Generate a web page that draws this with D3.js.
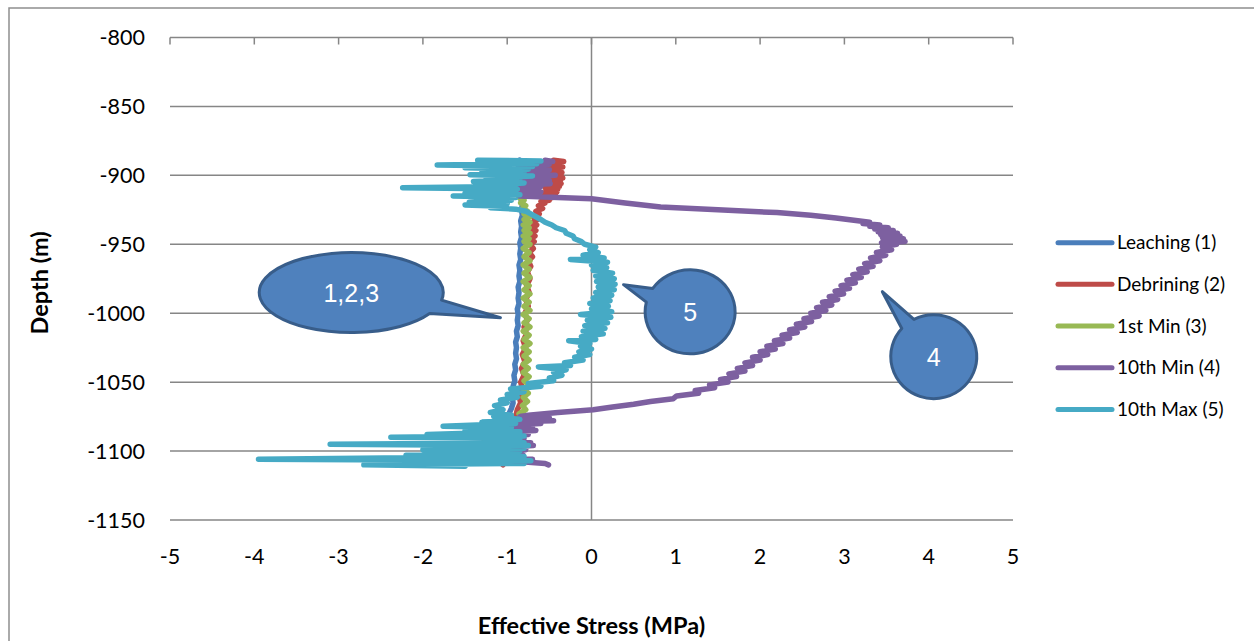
<!DOCTYPE html>
<html>
<head>
<meta charset="utf-8">
<script src="https://cdn.jsdelivr.net/npm/d3@7"></script>
<style>
  body { margin: 0; background: #fff; }
  svg { display: block; }
  text { font-family: Lato, "Open Sans", sans-serif; fill: #000; }
</style>
</head>
<body>
<div id="chart"></div>
<script>
// series: [depth (m), effective stress (MPa)]
var leaching = [
  [-889,-0.85],[-893,-0.87],[-897,-0.84],[-901,-0.86],[-905,-0.85],[-909,-0.86],[-913,-0.83],[-917,-0.84],
  [-921,-0.82],[-925,-0.83],[-929,-0.82],[-933,-0.84],[-937,-0.83],[-941,-0.84],[-945,-0.83],[-949,-0.85],
  [-953,-0.84],[-957,-0.85],[-961,-0.84],[-965,-0.86],[-969,-0.85],[-973,-0.86],[-977,-0.85],[-981,-0.87],
  [-985,-0.86],[-989,-0.87],[-993,-0.86],[-997,-0.88],[-1001,-0.87],[-1005,-0.88],[-1009,-0.87],[-1013,-0.89],
  [-1017,-0.88],[-1021,-0.9],[-1025,-0.89],[-1029,-0.9],[-1033,-0.89],[-1037,-0.91],[-1041,-0.9],[-1045,-0.92],
  [-1049,-0.91],[-1053,-0.93],[-1057,-0.92],[-1061,-0.94],[-1065,-0.93],[-1069,-0.95],[-1073,-0.98],[-1077,-1.0],
  [-1081,-0.98],[-1085,-1.03],[-1089,-1.0],[-1093,-1.06],[-1097,-1.01],[-1101,-1.08],[-1105,-1.02],[-1109,-1.06]
];
var debrining = [
  [-889,-0.45],[-890,-0.33],[-891,-0.52],[-892,-0.36],[-893,-0.55],[-894,-0.34],[-895,-0.5],[-896,-0.38],
  [-897,-0.56],[-898,-0.35],[-899,-0.52],[-900,-0.36],[-901,-0.55],[-902,-0.34],[-903,-0.53],[-904,-0.37],
  [-905,-0.56],[-906,-0.36],[-907,-0.52],[-908,-0.38],[-909,-0.55],[-910,-0.4],[-911,-0.54],[-912,-0.41],
  [-913,-0.57],[-914,-0.43],[-915,-0.56],[-916,-0.46],[-917,-0.58],[-918,-0.5],[-919,-0.6],[-920,-0.55],
  [-922,-0.63],[-924,-0.58],[-926,-0.66],[-928,-0.62],[-930,-0.69],[-932,-0.64],[-934,-0.7],[-936,-0.65],
  [-938,-0.71],[-940,-0.66],[-942,-0.72],[-944,-0.67],[-946,-0.72],[-948,-0.68],[-950,-0.73],[-953,-0.69],
  [-956,-0.74],[-959,-0.7],[-962,-0.75],[-966,-0.72],[-970,-0.76],[-975,-0.73],[-980,-0.77],[-985,-0.74],
  [-990,-0.78],[-995,-0.75],[-1000,-0.79],[-1005,-0.76],[-1010,-0.8],[-1015,-0.77],[-1020,-0.81],[-1025,-0.78],
  [-1030,-0.82],[-1035,-0.79],[-1040,-0.83],[-1045,-0.8],[-1050,-0.84],[-1055,-0.82],[-1060,-0.86],[-1065,-0.84],
  [-1070,-0.88],[-1075,-0.9],[-1080,-0.95],[-1084,-0.92],[-1088,-1.02],[-1091,-0.98],[-1094,-1.08],[-1097,-1.0],
  [-1100,-1.1],[-1103,-1.02],[-1106,-1.12],[-1110,-1.05]
];
var firstMin = [
  [-906,-0.88],[-908,-0.95],[-910,-0.85],[-912,-0.9],[-914,-0.82],[-916,-0.86],[-918,-0.8],[-920,-0.84],
  [-922,-0.78],[-924,-0.82],[-926,-0.76],[-928,-0.8],[-930,-0.73],[-932,-0.8],[-934,-0.73],[-936,-0.81],
  [-938,-0.74],[-940,-0.8],[-942,-0.73],[-944,-0.81],[-946,-0.74],[-948,-0.8],[-950,-0.73],[-953,-0.81],
  [-956,-0.74],[-959,-0.8],[-962,-0.73],[-965,-0.81],[-968,-0.74],[-971,-0.8],[-974,-0.73],[-977,-0.81],
  [-980,-0.74],[-983,-0.8],[-986,-0.73],[-989,-0.81],[-992,-0.74],[-995,-0.8],[-998,-0.73],[-1001,-0.81],
  [-1004,-0.74],[-1007,-0.8],[-1010,-0.73],[-1013,-0.81],[-1016,-0.74],[-1019,-0.8],[-1022,-0.73],[-1025,-0.81],
  [-1028,-0.74],[-1031,-0.8],[-1034,-0.74],[-1037,-0.81],[-1040,-0.75],[-1043,-0.81],[-1046,-0.74],[-1049,-0.8],
  [-1052,-0.74],[-1055,-0.81],[-1058,-0.75],[-1061,-0.81],[-1064,-0.76],[-1067,-0.82],[-1070,-0.78],[-1073,-0.86],
  [-1076,-0.82],[-1079,-0.92],[-1082,-0.96],[-1085,-1.0],[-1087,-1.08],[-1089,-1.05],[-1091,-1.28],[-1093,-1.15],
  [-1095,-1.22],[-1097,-1.12],[-1099,-1.2],[-1101,-1.1]
];
var tenthMin = [
  [-889,-0.55],[-890,-0.46],[-891,-0.75],[-892,-0.5],[-893,-0.8],[-894,-0.55],[-895,-0.84],[-896,-0.5],
  [-897,-0.82],[-898,-0.52],[-899,-0.78],[-900,-0.43],[-901,-0.8],[-902,-0.55],[-903,-0.85],[-904,-0.5],
  [-905,-0.82],[-906,-0.49],[-907,-0.9],[-908,-0.6],[-909,-1.35],[-910,-0.7],[-911,-0.95],[-912,-0.6],
  [-913,-0.9],[-914,-0.7],[-915,-0.86],[-916,-0.4],[-917,0.0],[-920,0.4],[-923,0.82],[-925,1.5],
  [-927,2.2],[-929,2.6],[-931,2.9],[-933,3.16],[-934,3.3],[-935,3.22],[-936,3.42],[-937,3.3],
  [-938,3.52],[-939,3.36],[-940,3.58],[-941,3.4],[-942,3.63],[-943,3.43],[-944,3.66],[-945,3.45],
  [-946,3.7],[-947,3.46],[-948,3.72],[-949,3.44],[-950,3.62],[-952,3.45],[-954,3.56],[-956,3.38],
  [-958,3.49],[-960,3.31],[-962,3.42],[-964,3.24],[-966,3.34],[-968,3.17],[-970,3.27],[-972,3.1],
  [-974,3.2],[-976,3.03],[-978,3.13],[-980,2.96],[-982,3.06],[-984,2.89],[-986,2.99],[-988,2.82],
  [-990,2.92],[-992,2.74],[-994,2.85],[-996,2.67],[-998,2.78],[-1000,2.6],[-1002,2.7],[-1004,2.52],
  [-1006,2.61],[-1008,2.43],[-1010,2.53],[-1012,2.35],[-1014,2.44],[-1016,2.26],[-1018,2.35],[-1020,2.17],
  [-1022,2.27],[-1024,2.08],[-1026,2.18],[-1028,2.0],[-1030,2.09],[-1032,1.91],[-1034,2.0],[-1036,1.82],
  [-1038,1.91],[-1040,1.73],[-1042,1.82],[-1044,1.63],[-1046,1.72],[-1048,1.53],[-1050,1.62],[-1052,1.4],
  [-1054,1.46],[-1056,1.23],[-1058,1.27],[-1060,1.01],[-1062,0.97],[-1064,0.7],[-1066,0.5],[-1068,0.25],
  [-1070,0.02],[-1072,-0.4],[-1074,-0.75],[-1075,-0.85],[-1076,-0.5],[-1077,-1.1],[-1078,-0.45],[-1079,-1.2],
  [-1080,-0.6],[-1082,-1.3],[-1083,-0.7],[-1084,-1.15],[-1085,-0.66],[-1087,-1.25],[-1088,-0.75],[-1090,-1.47],
  [-1091,-0.8],[-1092,-1.2],[-1094,-0.72],[-1095,-1.3],[-1096,-0.69],[-1098,-1.25],[-1099,-0.78],[-1101,-1.2],
  [-1103,-0.81],[-1104,-1.15],[-1106,-0.7],[-1107,-1.0],[-1109,-0.55],[-1110,-0.51]
];
var tenthMax = [
  [-889,-1.35],[-889.5,-0.6],[-890.5,-1.1],[-891.5,-0.65],[-892.5,-1.83],[-893.5,-0.7],[-894.5,-1.5],[-895.5,-0.75],
  [-897,-1.3],[-898,-0.8],[-899.5,-1.44],[-900.5,-0.7],[-902,-1.25],[-903,-0.85],[-904.5,-1.4],[-905.5,-0.8],
  [-907,-1.2],[-908,-0.9],[-909,-2.24],[-910,-0.88],[-911,-1.3],[-912,-0.95],[-913,-1.5],[-914,-0.85],
  [-915,-1.64],[-916,-0.9],[-917,-1.3],[-918,-0.95],[-919.5,-1.45],[-920.5,-1.0],[-921.5,-1.5],[-922.5,-1.05],
  [-923.5,-1.2],[-924.5,-0.9],[-926,-0.78],[-928,-0.72],[-930,-0.66],[-932,-0.6],[-934,-0.55],[-936,-0.47],
  [-938,-0.42],[-940,-0.32],[-942,-0.3],[-944,-0.22],[-946,-0.2],[-948,-0.12],[-950,-0.08],[-952,0.05],
  [-954,-0.02],[-956,0.08],[-958,-0.1],[-960,0.15],[-961,-0.25],[-963,0.19],[-965,0.0],[-967,0.18],
  [-969,0.02],[-971,0.25],[-973,0.05],[-975,0.27],[-977,0.06],[-979,0.28],[-981,0.08],[-983,0.27],
  [-985,0.05],[-987,0.24],[-989,0.02],[-991,0.22],[-993,-0.02],[-995,0.2],[-997,0.0],[-999,0.24],
  [-1001,-0.13],[-1003,0.23],[-1005,-0.05],[-1007,0.19],[-1009,-0.08],[-1011,0.16],[-1013,-0.1],[-1015,0.14],
  [-1017,-0.12],[-1019,0.05],[-1020,-0.27],[-1022,-0.02],[-1024,-0.13],[-1026,0.0],[-1028,-0.15],[-1030,-0.02],
  [-1032,-0.2],[-1034,-0.1],[-1036,-0.32],[-1038,-0.25],[-1039,-0.63],[-1041,-0.3],[-1043,-0.45],[-1045,-0.35],
  [-1047,-0.5],[-1049,-0.45],[-1051,-0.75],[-1053,-0.6],[-1055,-0.96],[-1057,-0.8],[-1059,-1.0],[-1061,-0.88],
  [-1063,-1.08],[-1065,-1.0],[-1067,-1.15],[-1070,-1.05],[-1072,-1.2],[-1074,-0.95],[-1075,-1.16],[-1077,-0.85],
  [-1079,-1.3],[-1080,-0.9],[-1082,-1.76],[-1083,-0.95],[-1085,-1.5],[-1086,-0.85],[-1088,-1.95],[-1089,-0.8],
  [-1090,-2.38],[-1091,-0.85],[-1093,-1.7],[-1094,-0.8],[-1095,-3.1],[-1096,-0.75],[-1097,-1.9],[-1098,-0.8],
  [-1099,-2.0],[-1100,-0.85],[-1101,-1.8],[-1102,-0.9],[-1103,-2.2],[-1104,-0.8],[-1106,-3.95],[-1107,-0.72],
  [-1108,-1.9],[-1109,-0.8],[-1110,-2.7],[-1111,-1.5]
];

var seriesNames = ["Leaching (1)", "Debrining (2)", "1st Min (3)", "10th Min (4)", "10th Max (5)"];
var seriesData = [leaching, debrining, firstMin, tenthMin, tenthMax];
var seriesColors = ["#4A7EBB", "#BE4B48", "#98B954", "#7D60A0", "#46AAC5"];

var xTicks = [-5, -4, -3, -2, -1, 0, 1, 2, 3, 4, 5];
var yTicks = [-800, -850, -900, -950, -1000, -1050, -1100, -1150];

// callouts: centre and tip in data units
var callouts = [
  { label: "1,2,3", cx: -2.85, cy: -985, tx: -1.08, ty: -1003.3, rx: 92, ry: 40 },
  { label: "5", cx: 1.17, cy: -999, tx: 0.38, ty: -979.3, rx: 45, ry: 42 },
  { label: "4", cx: 4.06, cy: -1031.5, tx: 3.45, ty: -984.4, rx: 43, ry: 42 }
];

var W = 1254, H = 641;
var plot = { left: 170, right: 1013, top: 37.5, bottom: 520 };
var gridColor = "#868686";

var svg = d3.select("#chart").append("svg")
  .attr("width", W)
  .attr("height", H);

// outer chart border (runs off the right / bottom)
svg.append("rect")
  .attr("x", 9).attr("y", 8)
  .attr("width", W + 20).attr("height", H + 20)
  .attr("fill", "#fff")
  .attr("stroke", "#8e8e8e")
  .attr("stroke-width", 1.5);

var x = d3.scaleLinear().domain([-5, 5]).range([plot.left, plot.right]);
var y = d3.scaleLinear().domain([-800, -1150]).range([plot.top, plot.bottom]);

// horizontal gridlines
svg.append("g").selectAll("line")
  .data(yTicks)
  .enter().append("line")
  .attr("x1", plot.left).attr("x2", plot.right)
  .attr("y1", function(d) { return y(d); })
  .attr("y2", function(d) { return y(d); })
  .attr("stroke", gridColor)
  .attr("stroke-width", 1.5);

// top axis ticks (pointing down)
svg.append("g").selectAll("line")
  .data(xTicks)
  .enter().append("line")
  .attr("x1", function(d) { return x(d); })
  .attr("x2", function(d) { return x(d); })
  .attr("y1", y(-800)).attr("y2", y(-800) + 7)
  .attr("stroke", gridColor)
  .attr("stroke-width", 1.5);

// vertical axis at 0
svg.append("line")
  .attr("x1", x(0)).attr("x2", x(0))
  .attr("y1", y(-800)).attr("y2", y(-1150))
  .attr("stroke", gridColor)
  .attr("stroke-width", 1.5);

// y labels
svg.append("g").selectAll("text")
  .data(yTicks)
  .enter().append("text")
  .attr("x", plot.left - 25)
  .attr("y", function(d) { return y(d); })
  .attr("dy", "0.35em")
  .attr("text-anchor", "end")
  .style("font-size", "21.5px")
  .text(function(d) { return d; });

// x labels
svg.append("g").selectAll("text")
  .data(xTicks)
  .enter().append("text")
  .attr("x", function(d) { return x(d); })
  .attr("y", y(-1150) + 36)
  .attr("dy", "0.35em")
  .attr("text-anchor", "middle")
  .style("font-size", "21.5px")
  .text(function(d) { return d; });

// axis titles
svg.append("text")
  .attr("x", x(0)).attr("y", 626)
  .attr("dy", "0.35em")
  .attr("text-anchor", "middle")
  .style("font-size", "23.5px")
  .style("font-weight", "bold")
  .text("Effective Stress (MPa)");

svg.append("text")
  .attr("transform", "translate(40," + y(-978) + ") rotate(-90)")
  .attr("dy", "0.35em")
  .attr("text-anchor", "middle")
  .style("font-size", "23.5px")
  .style("font-weight", "bold")
  .text("Depth (m)");

// series
var line = d3.line()
  .x(function(d) { return x(d[1]); })
  .y(function(d) { return y(d[0]); });

svg.append("g").selectAll("path")
  .data(seriesData)
  .enter().append("path")
  .attr("d", line)
  .attr("fill", "none")
  .attr("stroke", function(d, i) { return seriesColors[i]; })
  .attr("stroke-width", 5.5)
  .attr("stroke-linejoin", "round")
  .attr("stroke-linecap", "round");

// callouts
function calloutPath(c) {
  var cx = x(c.cx), cy = y(c.cy), tx = x(c.tx), ty = y(c.ty);
  var th = Math.atan2((ty - cy) / c.ry, (tx - cx) / c.rx);
  var a1 = th - 0.18, a2 = th + 0.18;
  var p1 = [cx + c.rx * Math.cos(a1), cy + c.ry * Math.sin(a1)];
  var p2 = [cx + c.rx * Math.cos(a2), cy + c.ry * Math.sin(a2)];
  return "M" + p2[0] + "," + p2[1] + "L" + tx + "," + ty + "L" + p1[0] + "," + p1[1] +
    "A" + c.rx + "," + c.ry + " 0 1 0 " + p2[0] + "," + p2[1] + "Z";
}

var cg = svg.append("g").selectAll("g")
  .data(callouts)
  .enter().append("g");

cg.append("path")
  .attr("d", calloutPath)
  .attr("fill", "#4F81BD")
  .attr("stroke", "#385D8A")
  .attr("stroke-width", 3)
  .attr("stroke-linejoin", "round");

cg.append("text")
  .attr("x", function(d) { return x(d.cx); })
  .attr("y", function(d) { return y(d.cy); })
  .attr("dy", "0.36em")
  .attr("text-anchor", "middle")
  .style("font-family", "'Liberation Sans', Arial, sans-serif")
  .style("font-size", "25px")
  .style("fill", "#fff")
  .text(function(d) { return d.label; });

// legend
var legend = svg.append("g").selectAll("g")
  .data(seriesNames)
  .enter().append("g")
  .attr("transform", function(d, i) { return "translate(1058," + (242.7 + i * 41.67) + ")"; });

legend.append("line")
  .attr("x1", 0).attr("x2", 54)
  .attr("stroke", function(d, i) { return seriesColors[i]; })
  .attr("stroke-width", 5)
  .attr("stroke-linecap", "round");

legend.append("text")
  .attr("x", 59)
  .attr("dy", "0.35em")
  .style("font-size", "19px")
  .text(function(d) { return d; });
</script>
</body>
</html>
